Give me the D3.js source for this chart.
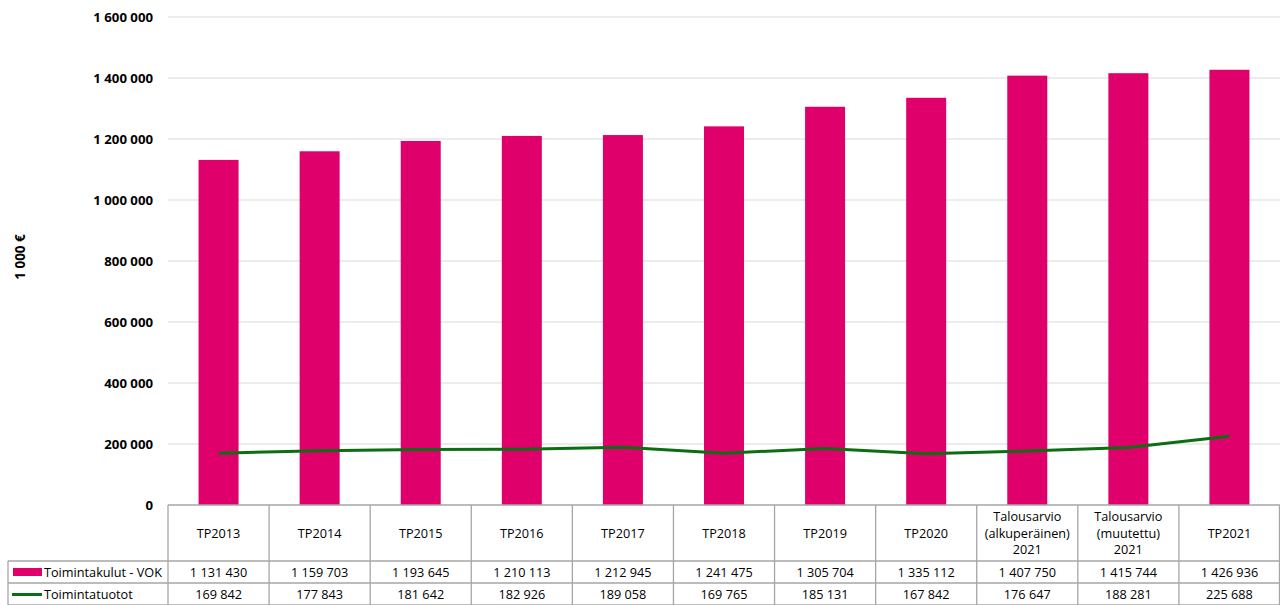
<!DOCTYPE html>
<html>
<head>
<meta charset="utf-8">
<script src="https://cdn.jsdelivr.net/npm/d3@7"></script>
<style>
  body { margin: 0; background: #fff; }
  svg { font-family: "Open Sans", "Noto Sans", sans-serif; }
</style>
</head>
<body>
<svg id="chart" width="1280" height="605"></svg>
<script>
const categories = ['TP2013', 'TP2014', 'TP2015', 'TP2016', 'TP2017', 'TP2018', 'TP2019', 'TP2020',
  'Talousarvio\n(alkuperäinen)\n2021', 'Talousarvio\n(muutettu)\n2021', 'TP2021'];
const kulut = [1131430, 1159703, 1193645, 1210113, 1212945, 1241475, 1305704, 1335112, 1407750, 1415744, 1426936];
const tuotot = [169842, 177843, 181642, 182926, 189058, 169765, 185131, 167842, 176647, 188281, 225688];
const seriesNames = ['Toimintakulut - VOK', 'Toimintatuotot'];
const yTicks = [0, 200000, 400000, 600000, 800000, 1000000, 1200000, 1400000, 1600000];

const svg = d3.select('#chart');
const plotLeft = 168, plotRight = 1280, plotTop = 17, plotBottom = 505;
const tableRows = [561, 583, 605];
const pink = '#e0006b', green = '#0b6e12';
const fmt = v => d3.format(',')(v).replace(/,/g, ' ');
const fs = 12.7;

const x = d3.scaleBand().domain(categories).range([plotLeft, plotRight]);
const y = d3.scaleLinear().domain([0, 1600000]).range([plotBottom, plotTop]);

// gridlines
svg.append('g').selectAll('line').data(yTicks.filter(d => d > 0)).enter().append('line')
  .attr('x1', plotLeft).attr('x2', plotRight).attr('y1', d => y(d)).attr('y2', d => y(d))
  .attr('stroke', '#d9d9d9').attr('stroke-width', 1);

// y axis labels
const yAxis = svg.append('g').attr('transform', `translate(${plotLeft}, 0)`)
  .call(d3.axisLeft(y).tickValues(yTicks).tickSize(0).tickPadding(15).tickFormat(fmt));
yAxis.select('.domain').remove();
yAxis.selectAll('text').attr('font-size', 13.2).attr('font-weight', 'bold')
  .attr('font-family', '"Open Sans", sans-serif').attr('fill', '#000');

svg.append('text').attr('transform', 'translate(25, 257) rotate(-90)')
  .attr('text-anchor', 'middle').attr('font-size', 13.5).attr('font-weight', 'bold').text('1 000 €');

// bars
const barW = 40;
svg.append('g').selectAll('rect').data(kulut).enter().append('rect')
  .attr('x', (d, i) => x(categories[i]) + x.bandwidth() / 2 - barW / 2)
  .attr('width', barW)
  .attr('y', d => y(d)).attr('height', d => plotBottom - y(d))
  .attr('fill', pink);

// line
const line = d3.line().x((d, i) => x(categories[i]) + x.bandwidth() / 2).y(d => y(d));
svg.append('path').datum(tuotot).attr('d', line)
  .attr('fill', 'none').attr('stroke', green).attr('stroke-width', 3);

// data table
const tbl = svg.append('g').attr('stroke', '#a6a6a6').attr('stroke-width', 1.3);
tbl.append('line').attr('x1', plotLeft).attr('x2', plotRight).attr('y1', plotBottom).attr('y2', plotBottom);
tableRows.forEach(r => tbl.append('line').attr('x1', 8).attr('x2', plotRight).attr('y1', r).attr('y2', r));
categories.forEach(c => tbl.append('line').attr('x1', x(c)).attr('x2', x(c)).attr('y1', plotBottom).attr('y2', 605));
tbl.append('line').attr('x1', plotRight - 0.5).attr('x2', plotRight - 0.5).attr('y1', plotBottom).attr('y2', 605);
tbl.append('line').attr('x1', 8).attr('x2', 8).attr('y1', tableRows[0]).attr('y2', 605);

// header labels
categories.forEach(c => {
  const lines = c.split('\n');
  const cy = (plotBottom + tableRows[0]) / 2;
  const t = svg.append('text').attr('text-anchor', 'middle').attr('font-size', fs).attr('fill', '#000');
  lines.forEach((l, j) => {
    t.append('tspan').attr('x', x(c) + x.bandwidth() / 2)
      .attr('y', cy + (j - (lines.length - 1) / 2) * 16.5 + 4.5).text(l);
  });
});

// values
[kulut, tuotot].forEach((vals, r) => {
  const cy = (tableRows[r] + tableRows[r + 1]) / 2 + 4.5;
  svg.append('g').selectAll('text').data(vals).enter().append('text')
    .attr('x', (d, i) => x(categories[i]) + x.bandwidth() / 2).attr('y', cy)
    .attr('text-anchor', 'middle').attr('font-size', fs).text(d => fmt(d));
  svg.append('text').attr('x', 44).attr('y', cy).attr('font-size', fs).text(seriesNames[r]);
});

// legend keys
svg.append('rect').attr('x', 13).attr('y', 568).attr('width', 29).attr('height', 8).attr('fill', pink);
svg.append('line').attr('x1', 12).attr('x2', 42).attr('y1', 594.5).attr('y2', 594.5)
  .attr('stroke', green).attr('stroke-width', 3);
</script>
</body>
</html>
